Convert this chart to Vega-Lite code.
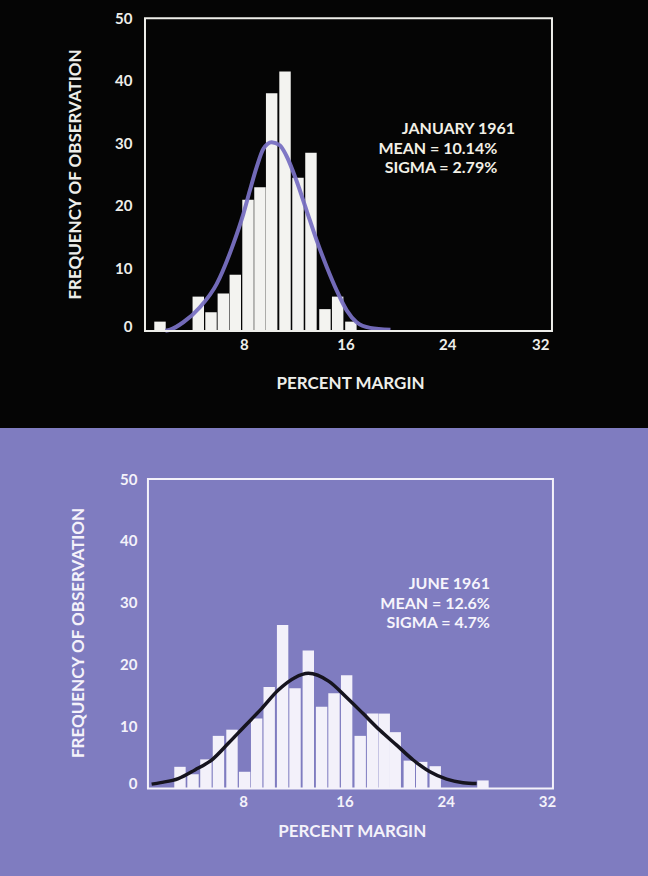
{
  "$schema": "https://vega.github.io/schema/vega-lite/v6.json",
  "padding": 0,
  "spacing": 0,
  "bounds": "flush",
  "background": "#050505",
  "config": {"view": {"stroke": null}, "font": "Lato"},
  "datasets": {
    "jan": [
      {"lo": 0.73, "hi": 1.63, "count": 1.5},
      {"lo": 3.74, "hi": 4.64, "count": 5.5},
      {"lo": 4.74, "hi": 5.64, "count": 3},
      {"lo": 5.71, "hi": 6.61, "count": 6},
      {"lo": 6.65, "hi": 7.55, "count": 9},
      {"lo": 7.65, "hi": 8.55, "count": 21},
      {"lo": 8.59, "hi": 9.49, "count": 23},
      {"lo": 9.51, "hi": 10.41, "count": 38},
      {"lo": 10.56, "hi": 11.46, "count": 41.5},
      {"lo": 11.58, "hi": 12.48, "count": 24.5},
      {"lo": 12.6, "hi": 13.5, "count": 28.5},
      {"lo": 13.7, "hi": 14.6, "count": 3.5},
      {"lo": 14.7, "hi": 15.6, "count": 5.5},
      {"lo": 15.74, "hi": 16.64, "count": 1.5}
    ],
    "janCurve": [
      {"x": 1.6, "y": 0.05}, {"x": 1.97, "y": 0.2}, {"x": 3.01, "y": 1.4}, {"x": 4.32, "y": 3.8},
      {"x": 5.63, "y": 7.5}, {"x": 6.94, "y": 13.9}, {"x": 7.73, "y": 18.7}, {"x": 8.25, "y": 22.5},
      {"x": 8.78, "y": 26.2}, {"x": 9.3, "y": 29.1}, {"x": 9.96, "y": 30.2}, {"x": 10.6, "y": 29.7},
      {"x": 11.1, "y": 28.1}, {"x": 11.9, "y": 24.1}, {"x": 12.7, "y": 19.3}, {"x": 13.5, "y": 14.5},
      {"x": 14.3, "y": 10.2}, {"x": 15.07, "y": 6.5}, {"x": 15.86, "y": 3.3}, {"x": 16.64, "y": 1.4},
      {"x": 17.7, "y": 0.5}, {"x": 19.3, "y": 0.2}
    ],
    "jun": [
      {"lo": 2.08, "hi": 2.98, "count": 3.5},
      {"lo": 3.11, "hi": 4.01, "count": 2.3},
      {"lo": 4.13, "hi": 5.03, "count": 4.7},
      {"lo": 5.12, "hi": 6.02, "count": 8.5},
      {"lo": 6.19, "hi": 7.09, "count": 9.5},
      {"lo": 7.19, "hi": 8.09, "count": 2.7},
      {"lo": 8.14, "hi": 9.04, "count": 11.3},
      {"lo": 9.13, "hi": 10.03, "count": 16.4},
      {"lo": 10.19, "hi": 11.09, "count": 26.4},
      {"lo": 11.17, "hi": 12.07, "count": 16.2},
      {"lo": 12.22, "hi": 13.12, "count": 22.3},
      {"lo": 13.27, "hi": 14.17, "count": 13.2},
      {"lo": 14.25, "hi": 15.15, "count": 15.4},
      {"lo": 15.25, "hi": 16.15, "count": 18.3},
      {"lo": 16.32, "hi": 17.22, "count": 8.5},
      {"lo": 17.3, "hi": 18.2, "count": 12.1},
      {"lo": 18.22, "hi": 19.12, "count": 12.1},
      {"lo": 19.09, "hi": 19.99, "count": 9.1},
      {"lo": 20.2, "hi": 21.1, "count": 4.5},
      {"lo": 21.18, "hi": 22.08, "count": 4.3},
      {"lo": 22.25, "hi": 23.15, "count": 3.6},
      {"lo": 26.02, "hi": 26.92, "count": 1.3}
    ],
    "junCurve": [
      {"x": 0.29, "y": 0.7}, {"x": 1.0, "y": 0.95}, {"x": 2.4, "y": 1.6}, {"x": 3.71, "y": 3.0},
      {"x": 5.03, "y": 4.6}, {"x": 6.35, "y": 7.3}, {"x": 7.66, "y": 10.1}, {"x": 8.98, "y": 12.9},
      {"x": 10.3, "y": 15.9}, {"x": 11.6, "y": 17.9}, {"x": 12.67, "y": 18.6}, {"x": 14.3, "y": 17.3},
      {"x": 15.7, "y": 14.7}, {"x": 17.0, "y": 12.1}, {"x": 18.33, "y": 9.4}, {"x": 19.65, "y": 7.0},
      {"x": 20.96, "y": 4.6}, {"x": 22.28, "y": 2.7}, {"x": 23.6, "y": 1.5}, {"x": 24.9, "y": 0.94},
      {"x": 25.97, "y": 0.8}
    ]
  },
  "vconcat": [
    {
      "width": 648,
      "height": 428,
      "view": {"fill": "#050505", "stroke": null},
      "layer": [
        {
          "data": {"name": "jan"},
          "mark": {"type": "rect", "color": "#f3f3f0"},
          "encoding": {
            "x": {
              "field": "lo", "type": "quantitative",
              "scale": {"domain": [-11.4, 39.55], "nice": false, "zero": false},
              "axis": {
                "values": [8, 16, 24, 32], "domain": false, "ticks": false, "grid": false,
                "offset": -97, "labelPadding": 6, "labelOffset": -3,
                "labelAlign": {"condition": {"test": "datum.value === 32", "value": "right"}, "value": "center"},
                "labelColor": "#eeeeea", "labelFont": "Lato", "labelFontSize": 15, "labelFontWeight": "bold",
                "title": "PERCENT MARGIN", "titleColor": "#eeeeea", "titleFont": "Lato", "titleFontSize": 17,
                "titleFontWeight": "bold", "titleX": 350, "titleY": 52, "titleBaseline": "middle", "titleAlign": "center"
              }
            },
            "x2": {"field": "hi"},
            "y": {
              "field": "count", "type": "quantitative",
              "scale": {"domain": [-15.51, 52.93], "nice": false, "zero": false},
              "axis": {
                "values": [0, 10, 20, 30, 40, 50], "domain": false, "ticks": false, "grid": false,
                "offset": -145, "labelPadding": 13,
                "labelBaseline": {"condition": {"test": "datum.value === 0", "value": "alphabetic"}, "value": "middle"},
                "labelColor": "#eeeeea", "labelFont": "Lato", "labelFontSize": 15, "labelFontWeight": "bold",
                "title": "FREQUENCY OF OBSERVATION", "titleColor": "#eeeeea", "titleFont": "Lato", "titleFontSize": 17,
                "titleFontWeight": "bold", "titleX": -70, "titleY": 174, "titleAngle": 270,
                "titleBaseline": "middle", "titleAlign": "center"
              }
            },
            "y2": {"datum": 0}
          }
        },
        {
          "data": {"name": "janCurve"},
          "mark": {"type": "line", "color": "#7870c2", "strokeWidth": 4, "interpolate": "monotone", "opacity": 0.95},
          "encoding": {
            "x": {"field": "x", "type": "quantitative"},
            "y": {"field": "y", "type": "quantitative"}
          }
        },
        {
          "data": {"values": [{}]},
          "mark": {"type": "rect", "fill": "transparent", "stroke": "#eeeeea", "strokeWidth": 2},
          "encoding": {
            "x": {"datum": 0}, "x2": {"datum": 32},
            "y": {"datum": 0}, "y2": {"datum": 50}
          }
        },
        {
          "data": {"values": [{}]},
          "mark": {"type": "text", "text": "JANUARY 1961", "align": "right", "baseline": "middle", "font": "Lato", "fontSize": 16, "fontWeight": "bold", "color": "#f2f0e6"},
          "encoding": {"x": {"datum": 29.1}, "y": {"datum": 32.3}}
        },
        {
          "data": {"values": [{}]},
          "mark": {"type": "text", "text": "MEAN = 10.14%", "align": "right", "baseline": "middle", "font": "Lato", "fontSize": 16, "fontWeight": "bold", "color": "#f2f0e6"},
          "encoding": {"x": {"datum": 27.7}, "y": {"datum": 29.1}}
        },
        {
          "data": {"values": [{}]},
          "mark": {"type": "text", "text": "SIGMA = 2.79%", "align": "right", "baseline": "middle", "font": "Lato", "fontSize": 16, "fontWeight": "bold", "color": "#f2f0e6"},
          "encoding": {"x": {"datum": 27.7}, "y": {"datum": 26.1}}
        }
      ]
    },
    {
      "width": 648,
      "height": 448,
      "view": {"fill": "#7f7cc0", "stroke": null},
      "layer": [
        {
          "data": {"name": "jun"},
          "mark": {"type": "rect", "color": "#f3f1fa"},
          "encoding": {
            "x": {
              "field": "lo", "type": "quantitative",
              "scale": {"domain": [-11.69, 39.51], "nice": false, "zero": false},
              "axis": {
                "values": [8, 16, 24, 32], "domain": false, "ticks": false, "grid": false,
                "offset": -87.5, "labelPadding": 6, "labelOffset": -6,
                "labelColor": "#f4f2fa", "labelFont": "Lato", "labelFontSize": 15, "labelFontWeight": "bold",
                "title": "PERCENT MARGIN", "titleColor": "#f4f2fa", "titleFont": "Lato", "titleFontSize": 17,
                "titleFontWeight": "bold", "titleX": 351.7, "titleY": 43, "titleBaseline": "middle", "titleAlign": "center"
              }
            },
            "x2": {"field": "hi"},
            "y": {
              "field": "count", "type": "quantitative",
              "scale": {"domain": [-14.14, 58.24], "nice": false, "zero": false},
              "axis": {
                "values": [0, 10, 20, 30, 40, 50], "domain": false, "ticks": false, "grid": false,
                "offset": -148, "labelPadding": 11,
                "labelBaseline": {"condition": {"test": "datum.value === 0", "value": "alphabetic"}, "value": "middle"},
                "labelColor": "#f4f2fa", "labelFont": "Lato", "labelFontSize": 15, "labelFontWeight": "bold",
                "title": "FREQUENCY OF OBSERVATION", "titleColor": "#f4f2fa", "titleFont": "Lato", "titleFontSize": 17,
                "titleFontWeight": "bold", "titleX": -70, "titleY": 204.5, "titleAngle": 270,
                "titleBaseline": "middle", "titleAlign": "center"
              }
            },
            "y2": {"datum": 0}
          }
        },
        {
          "data": {"name": "junCurve"},
          "mark": {"type": "line", "color": "#16141e", "strokeWidth": 3.5, "interpolate": "monotone"},
          "encoding": {
            "x": {"field": "x", "type": "quantitative"},
            "y": {"field": "y", "type": "quantitative"}
          }
        },
        {
          "data": {"values": [{}]},
          "mark": {"type": "rect", "fill": "transparent", "stroke": "#f4f2fa", "strokeWidth": 2},
          "encoding": {
            "x": {"datum": 0}, "x2": {"datum": 32},
            "y": {"datum": 0}, "y2": {"datum": 50}
          }
        },
        {
          "data": {"values": [{}]},
          "mark": {"type": "text", "text": "JUNE 1961", "align": "right", "baseline": "middle", "font": "Lato", "fontSize": 16, "fontWeight": "bold", "color": "#f6f4fc"},
          "encoding": {"x": {"datum": 27.02}, "y": {"datum": 33.0}}
        },
        {
          "data": {"values": [{}]},
          "mark": {"type": "text", "text": "MEAN = 12.6%", "align": "right", "baseline": "middle", "font": "Lato", "fontSize": 16, "fontWeight": "bold", "color": "#f6f4fc"},
          "encoding": {"x": {"datum": 27.02}, "y": {"datum": 29.8}}
        },
        {
          "data": {"values": [{}]},
          "mark": {"type": "text", "text": "SIGMA = 4.7%", "align": "right", "baseline": "middle", "font": "Lato", "fontSize": 16, "fontWeight": "bold", "color": "#f6f4fc"},
          "encoding": {"x": {"datum": 27.02}, "y": {"datum": 26.8}}
        }
      ]
    }
  ]
}
